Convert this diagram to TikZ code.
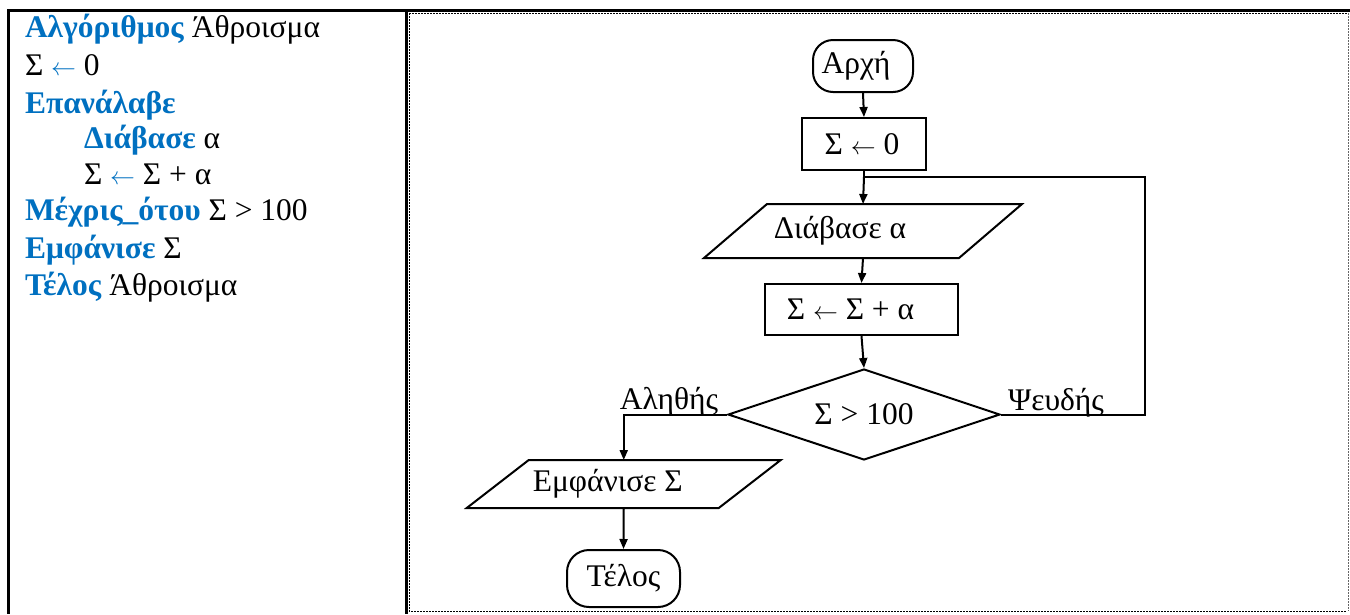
\documentclass[tikz,border=0pt]{standalone}
\usepackage{fontspec}
\setmainfont{Liberation Serif}
\usetikzlibrary{shapes.geometric,arrows.meta,calc}
\definecolor{kw}{RGB}{0,112,192}
\newcommand{\larr}{\ensuremath{\leftarrow}}
\begin{document}
\begin{tikzpicture}[x=1pt,y=-1pt,
  line width=2pt,
  flow/.style={font=\fontsize{31.5}{34}\selectfont, inner sep=0pt},
  term/.style={flow, draw, rectangle, rounded corners=20pt},
  proc/.style={flow, draw, rectangle},
  iobox/.style={flow, rectangle},
  dec/.style={flow, draw, diamond, aspect=3},
  arr/.style={-{Triangle[length=10pt,width=8pt]}},
  code/.style={font=\fontsize{31.5}{34}\selectfont, anchor=base west, inner sep=0pt},
  lbl/.style={flow, anchor=base},
  dots/.style={line width=1pt, dash pattern=on 1.5pt off 1.5pt}
]
\useasboundingbox (0,0) rectangle (1350,614);
% table borders
\draw[line width=3pt] (7,10) -- (1350,10);
\draw[line width=3pt] (8.5,10) -- (8.5,614);
\draw[line width=3pt] (406,10) -- (406,614);
\draw[dots] (409,13) -- (1347,13);
\draw[dots] (409,13) -- (409,611) -- (1347,611);
\draw[dots, black!60] (1348,13) -- (1348,611);
% pseudocode
\node[code] (c1) at (24,37) {\textcolor{kw}{\textbf{Αλγόριθμος}} Άθροισμα};
\node[code] (c2) at (24,75) {Σ \textcolor{kw}{\larr} 0};
\node[code] (c3) at (24,113) {\textcolor{kw}{\textbf{Επανάλαβε}}};
\node[code] (c4) at (83,148) {\textcolor{kw}{\textbf{Διάβασε}} α};
\node[code] (c5) at (83,184) {Σ \textcolor{kw}{\larr} Σ + α};
\node[code] (c6) at (24,220) {\textcolor{kw}{\textbf{Μέχρις\_ότου}} Σ > 100};
\node[code] (c7) at (24,258) {\textcolor{kw}{\textbf{Εμφάνισε}} Σ};
\node[code] (c8) at (24,295) {\textcolor{kw}{\textbf{Τέλος}} Άθροισμα};
% flowchart
\node[term, minimum width=100pt, minimum height=52pt] (start) at (863,66) {Αρχή\hspace*{14pt}};
\node[proc, minimum width=124pt, minimum height=52pt] (s0) at (864,144) {Σ \larr{} 0\hspace*{4pt}};
\coordinate (j) at (864,177);
\node[iobox, minimum width=253pt, minimum height=52pt] (read) at (863,231) {Διάβασε α\hspace*{46pt}};
\draw ([xshift=-31.5pt]read.south west) -- ([xshift=-31.5pt]read.south east) -- ([xshift=31.5pt]read.north east) -- ([xshift=31.5pt]read.north west) -- cycle;
\node[proc, minimum width=193pt, minimum height=51pt] (add) at (861.5,309.5) {Σ \larr{} Σ + α\hspace*{22pt}};
\node[dec, minimum width=272pt, minimum height=91pt] (cond) at (864,414.5) {Σ > 100};
\node[iobox, minimum width=250pt, minimum height=46pt] (show) at (623.75,484) {Εμφάνισε Σ\hspace*{32pt}};
\draw ([xshift=-31pt]show.south west) -- ([xshift=-31pt]show.south east) -- ([xshift=31pt]show.north east) -- ([xshift=31pt]show.north west) -- cycle;
\node[term, minimum width=113pt, minimum height=57pt, rounded corners=22pt] (stop) at (623.5,578.5) {Τέλος};
\coordinate (loopx) at (1145,177);
% connectors
\draw[arr] (start.south) -- (s0.north);
\draw (s0.south) -- (j);
\draw[arr] (j) -- (read.north);
\draw[arr] (read.south) -- (add.north);
\draw[arr] (add.south) -- (cond.north);
\draw (cond.east) -| (loopx) -- (j);
\draw[arr] (cond.west) -| (show.north);
\draw[arr] (show.south) -- (stop.north);
% branch labels
\node[lbl] (yes) at (669,409) {Αληθής};
\node[lbl] (no) at (1056,410) {Ψευδής};
\end{tikzpicture}
\end{document}
